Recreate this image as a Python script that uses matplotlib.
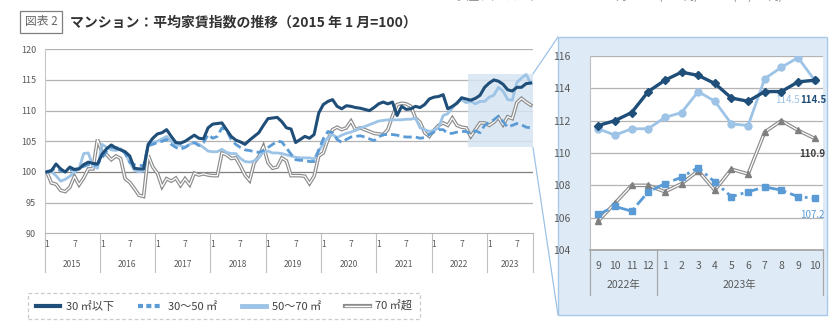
import numpy as np
import matplotlib
matplotlib.use('Agg')
import matplotlib.pyplot as plt
from matplotlib.patches import Rectangle, ConnectionPatch
from matplotlib.lines import Line2D
from matplotlib.legend_handler import HandlerTuple
import matplotlib.transforms as mtransforms

plt.rcParams['font.family'] = ['Noto Sans CJK JP', 'DejaVu Sans']

# Monthly index values, Jan 2015 - Oct 2023 (2015/1 = 100)
years = ['2015', '2016', '2017', '2018', '2019', '2020', '2021', '2022', '2023']

small_30 = [100.0, 100.2, 101.3, 100.5, 100.0, 100.8, 100.4, 100.5, 101.2, 101.6, 101.4, 101.3,
            102.9, 103.8, 104.4, 103.9, 103.6, 103.3, 102.6, 100.6, 100.5, 100.5, 104.5, 105.5,
            106.2, 106.4, 106.9, 105.8, 104.8, 104.7, 105.0, 105.5, 106.0, 105.5, 105.4, 107.2,
            107.8, 107.9, 108.0, 106.9, 105.8, 105.2, 104.9, 104.5, 105.2, 105.8, 106.4, 107.6,
            108.7, 108.8, 108.9, 108.2, 107.2, 107.0, 104.8, 105.3, 105.8, 105.5, 106.1, 109.6,
            111.0, 111.5, 111.8, 110.7, 110.3, 110.8, 110.7, 110.5, 110.4, 110.2, 110.0, 110.5,
            111.1, 111.4, 111.1, 111.4, 109.2, 110.7, 110.2, 110.3, 110.7, 110.5, 111.0, 111.9,
            112.2, 112.3, 112.6, 110.3, 110.7, 111.2, 112.1, 111.9,
            111.7, 112.0, 112.5, 113.8, 114.5, 115.0, 114.8, 114.3, 113.4, 113.2, 113.8, 113.8,
            114.4, 114.5]

mid_30_50 = [100.0, 100.3, 100.6, 100.2, 100.0, 100.3, 100.4, 100.6, 100.9, 101.2, 101.0, 101.2,
             102.3, 103.4, 104.0, 104.0, 103.8, 103.0, 101.6, 101.2, 101.1, 101.0, 104.3, 104.5,
             104.8, 105.0, 105.3, 104.5, 104.0, 103.7, 104.0, 104.5, 104.8, 104.3, 104.8, 106.1,
             105.5, 105.8, 107.2, 106.8, 105.3, 104.5, 104.0, 103.6, 103.5, 103.3, 103.2, 103.5,
             104.0, 104.5, 105.0, 104.9, 103.9, 102.9, 102.0, 101.9, 101.9, 101.7, 101.7, 103.6,
             105.4, 106.6, 106.4, 105.3, 104.8, 105.3, 105.7, 105.8, 105.9, 105.7, 105.4, 105.1,
             105.7, 106.1, 106.1, 106.1, 106.0, 105.8, 105.7, 105.7, 105.7, 105.5, 105.6, 106.1,
             106.5, 106.9, 106.9, 106.3, 106.3, 106.5, 106.6, 106.6,
             106.2, 106.7, 106.4, 107.6, 108.1, 108.5, 109.1, 108.2, 107.3, 107.6, 107.9, 107.7,
             107.3, 107.2]

mid_50_70 = [100.0, 100.0, 99.4, 98.5, 98.8, 99.3, 100.0, 100.5, 103.0, 103.1, 101.0, 100.6,
             104.5, 104.0, 103.6, 103.5, 103.8, 103.2, 101.5, 100.3, 100.0, 100.2, 104.3, 104.8,
             105.0, 105.4, 105.8, 105.0, 104.5, 104.3, 104.0, 104.5, 104.8, 104.5, 104.0, 103.4,
             103.3, 103.3, 103.7, 103.2, 103.0, 103.0, 102.2, 101.7, 101.6, 101.8, 102.3, 103.3,
             103.4, 103.1, 103.1, 103.0, 102.8, 102.6, 102.4, 102.3, 102.3, 102.3, 102.1, 103.4,
             104.6, 105.6, 106.1, 105.6, 106.0, 106.3, 106.5, 106.8, 107.2, 107.4, 107.7, 108.0,
             108.3, 108.4, 108.5, 108.5, 108.5, 108.5, 108.6, 108.6, 108.8, 107.2, 106.9, 106.6,
             106.8, 107.2, 109.2, 109.5, 110.4, 111.4, 111.8, 111.3,
             111.5, 111.1, 111.5, 111.5, 112.2, 112.5, 113.8, 113.2, 111.8, 111.7, 114.6, 115.3,
             115.9, 114.5]

large_70 = [100.0, 98.2, 98.0, 97.0, 96.8, 97.5, 99.3, 97.9, 99.0, 100.5, 100.5, 105.3,
            103.2, 102.8, 102.0, 102.6, 102.2, 98.9, 98.3, 97.3, 96.2, 96.0, 102.7, 100.8,
            99.8, 97.6, 98.9, 98.5, 99.0, 97.8, 98.9, 97.9, 99.8, 99.5, 99.7, 99.5,
            99.4, 99.4, 103.1, 102.8, 102.2, 102.3, 101.0, 99.5, 98.6, 101.5, 102.5, 104.2,
            101.5, 100.6, 100.8, 102.3, 101.8, 99.4, 99.4, 99.4, 99.3, 98.1, 99.3, 102.6,
            103.1, 105.3, 106.9, 107.3, 106.9, 107.2, 108.3, 106.9, 107.2, 106.9, 106.6, 106.3,
            106.2, 106.1, 106.9, 109.1, 111.0, 111.2, 111.1, 110.7, 108.8, 108.1, 106.4, 105.8,
            106.8, 107.6, 108.0, 107.6, 108.8, 107.6, 107.3, 107.2,
            105.8, 106.9, 108.0, 108.0, 107.6, 108.1, 108.9, 107.7, 109.0, 108.7, 111.3, 112.0,
            111.4, 110.9]

zoom_months = ['9', '10', '11', '12', '1', '2', '3', '4', '5', '6', '7', '8', '9', '10']
zoom_years = ['2022年', '2023年']

labels = ['30 ㎡以下', '30～50 ㎡', '50～70 ㎡', '70 ㎡超']
c_dark = '#1f4e79'
c_mid = '#5b9bd5'
c_light = '#9dc3e6'
c_gray = '#8c8c8c'
c_text = '#595959'

W, H = 836, 334
fig = plt.figure(figsize=(W / 100, H / 100), dpi=100)


def px(x0, y0, x1, y1):
    return [x0 / W, 1 - y1 / H, (x1 - x0) / W, (y1 - y0) / H]


# title
fig.text(41 / W, 1 - 22 / H, '図表 2', ha='center', va='center', fontsize=8.5, color='#666666',
         bbox=dict(boxstyle='square,pad=0.35', fc='white', ec='#7f7f7f', lw=0.9))
fig.text(70 / W, 1 - 22 / H, 'マンション：平均家賃指数の推移（2015 年 1 月=100）', ha='left', va='center',
         fontsize=10, fontweight='bold', color='#333333')
# cut-off text from the previous figure at the very top
for tx, s in [(495, '（大型ファミリー）'), (620, '円'), (678, '(-662円)'), (758, '(+3,290円)')]:
    fig.text(tx / W, 1 + 3 / H, s, ha='center', va='center', fontsize=7.5, color='#7f7f7f')

# ---------------- main chart ----------------
n = len(small_30)
x = np.arange(n) + 0.5
ax = fig.add_axes(px(44.5, 49.3, 533, 233.3))
ax.set_xlim(0, 106)
ax.set_ylim(90, 120)
ax.set_yticks(np.arange(90, 121, 5))
for v in range(95, 121, 5):
    ax.axhline(v, color='#7f7f7f' if v == 100 else '#b3b3b3', lw=0.9, zorder=0)
for s in ['top', 'right']:
    ax.spines[s].set_visible(False)
ax.spines['left'].set_color('#c8c8c8')
ax.spines['bottom'].set_color('#b3b3b3')
ax.tick_params(axis='y', labelsize=6.5, colors=c_text, length=0, pad=6)
ax.tick_params(axis='x', bottom=False, labelbottom=False)

ax.add_patch(Rectangle((92, 104), 14, 12, facecolor='#d6e4f2', edgecolor='none', alpha=0.85, zorder=0.5))

ax.plot(x, large_70, color=c_gray, lw=2.6, zorder=2, solid_joinstyle='miter')
ax.plot(x, large_70, color='white', lw=0.9, zorder=2.1)
ax.plot(x, mid_50_70, color=c_light, lw=2.0, zorder=3)
ax.plot(x, mid_30_50, color=c_mid, lw=2.0, ls=(0, (3, 1.5)), zorder=4)
ax.plot(x, small_30, color=c_dark, lw=2.2, zorder=5)

trans = mtransforms.blended_transform_factory(ax.transData, ax.transAxes)
for i, yr in enumerate(years):
    start = i * 12
    months_in = min(12, n - start)
    ax.text(start + 0.5, -0.063, '1', transform=trans, ha='center', va='center', fontsize=6, color=c_text)
    ax.text(start + 6.5, -0.063, '7', transform=trans, ha='center', va='center', fontsize=6, color=c_text)
    ax.text(start + months_in / 2, -0.167, yr, transform=trans, ha='center', va='center',
            fontsize=6, color=c_text)
for b in list(range(0, n, 12)) + [106]:
    ax.plot([b, b], [0, -0.21], transform=trans, color='#bfbfbf', lw=0.8, clip_on=False)

# ---------------- zoomed panel ----------------
fig.patches.append(Rectangle((558 / W, 1 - 315 / H), (827 - 558) / W, (315 - 37) / H,
                             transform=fig.transFigure, facecolor='#deebf7', edgecolor='#a9c9e8',
                             lw=1.0, zorder=-1))
for (xa, ya), yb in [((106, 116), 37), ((106, 104), 315)]:
    con = ConnectionPatch(xyA=(xa, ya), coordsA=ax.transData, xyB=(558 / W, 1 - yb / H),
                          coordsB=fig.transFigure, color='#9dc3e6', lw=0.9)
    fig.add_artist(con)

z0 = 92
xs = np.arange(len(zoom_months))
ax2 = fig.add_axes(px(590, 56, 823, 250))
ax2.set_facecolor('white')
ax2.set_xlim(-0.5, 13.5)
ax2.set_ylim(104, 116)
ax2.set_yticks(np.arange(104, 117, 2))
for v in range(106, 117, 2):
    ax2.axhline(v, color='#b3b3b3', lw=0.9, zorder=0)
for s in ['top', 'right']:
    ax2.spines[s].set_visible(False)
ax2.spines['left'].set_color('#bfbfbf')
ax2.spines['bottom'].set_color('#a6a6a6')
ax2.spines['bottom'].set_linewidth(1.3)
ax2.set_xticks(xs)
ax2.set_xticklabels(zoom_months)
ax2.tick_params(axis='x', length=0, labelsize=7.5, colors=c_text, pad=8)
ax2.tick_params(axis='y', length=0, labelsize=7.5, colors=c_text, pad=14)

ax2.plot(xs, large_70[z0:], color=c_gray, lw=2.6, zorder=2)
ax2.plot(xs, large_70[z0:], color='white', lw=0.9, zorder=2.1)
ax2.plot(xs, large_70[z0:], ls='none', marker='^', ms=5, color='#7f7f7f', zorder=2.2)
ax2.plot(xs, mid_50_70[z0:], color=c_light, lw=2.0, marker='o', ms=5, zorder=3)
ax2.plot(xs, mid_30_50[z0:], color=c_mid, lw=2.0, ls=(0, (4, 1.5, 1, 1.5)), marker='s', ms=4.5, zorder=4)
ax2.plot(xs, small_30[z0:], color=c_dark, lw=2.4, marker='D', ms=4.5, zorder=5)

last = xs[-1]
ax2.annotate(f'{small_30[-1]:.1f}', (last, small_30[-1]), xytext=(-1, -14), textcoords='offset points',
             ha='center', va='center', fontsize=7, fontweight='bold', color=c_dark)
ax2.annotate(f'{mid_50_70[-1]:.1f}', (last, mid_50_70[-1]), xytext=(-11, -14), textcoords='offset points',
             ha='right', va='center', fontsize=7, color=c_light)
ax2.annotate(f'{large_70[-1]:.1f}', (last, large_70[-1]), xytext=(-2, -11), textcoords='offset points',
             ha='center', va='center', fontsize=7, fontweight='bold', color='#404040')
ax2.annotate(f'{mid_30_50[-1]:.1f}', (last, mid_30_50[-1]), xytext=(-2, -12), textcoords='offset points',
             ha='center', va='center', fontsize=7, color=c_mid)

trans2 = mtransforms.blended_transform_factory(ax2.transData, ax2.transAxes)
ax2.text(1.5, -0.18, zoom_years[0], transform=trans2, ha='center', va='center', fontsize=7.5, color=c_text)
ax2.text(8.5, -0.18, zoom_years[1], transform=trans2, ha='center', va='center', fontsize=7.5, color=c_text)
for b in [-0.5, 3.5, 13.5]:
    ax2.plot([b, b], [0, -0.23], transform=trans2, color='#a6a6a6', lw=0.9, clip_on=False)

# ---------------- legend ----------------
h1 = Line2D([], [], color=c_dark, lw=3)
h2 = Line2D([], [], color=c_mid, lw=3, ls=(0, (1.2, 0.8)))
h3 = Line2D([], [], color=c_light, lw=3.5)
h4 = (Line2D([], [], color=c_gray, lw=3), Line2D([], [], color='white', lw=1))
leg = fig.legend([h1, h2, h3, h4], labels, loc='center', bbox_to_anchor=(224 / W, 1 - 306 / H),
                 ncol=4, fontsize=8, frameon=True, fancybox=False, handlelength=2.2,
                 handletextpad=0.5, columnspacing=2.2, borderpad=0.7,
                 handler_map={tuple: HandlerTuple(ndivide=1)})
leg.get_frame().set_linestyle((0, (3, 2)))
leg.get_frame().set_edgecolor('#bfbfbf')
leg.get_frame().set_linewidth(0.9)
for t in leg.get_texts():
    t.set_color('#404040')

fig.savefig('out.png', dpi=100, facecolor='white')
